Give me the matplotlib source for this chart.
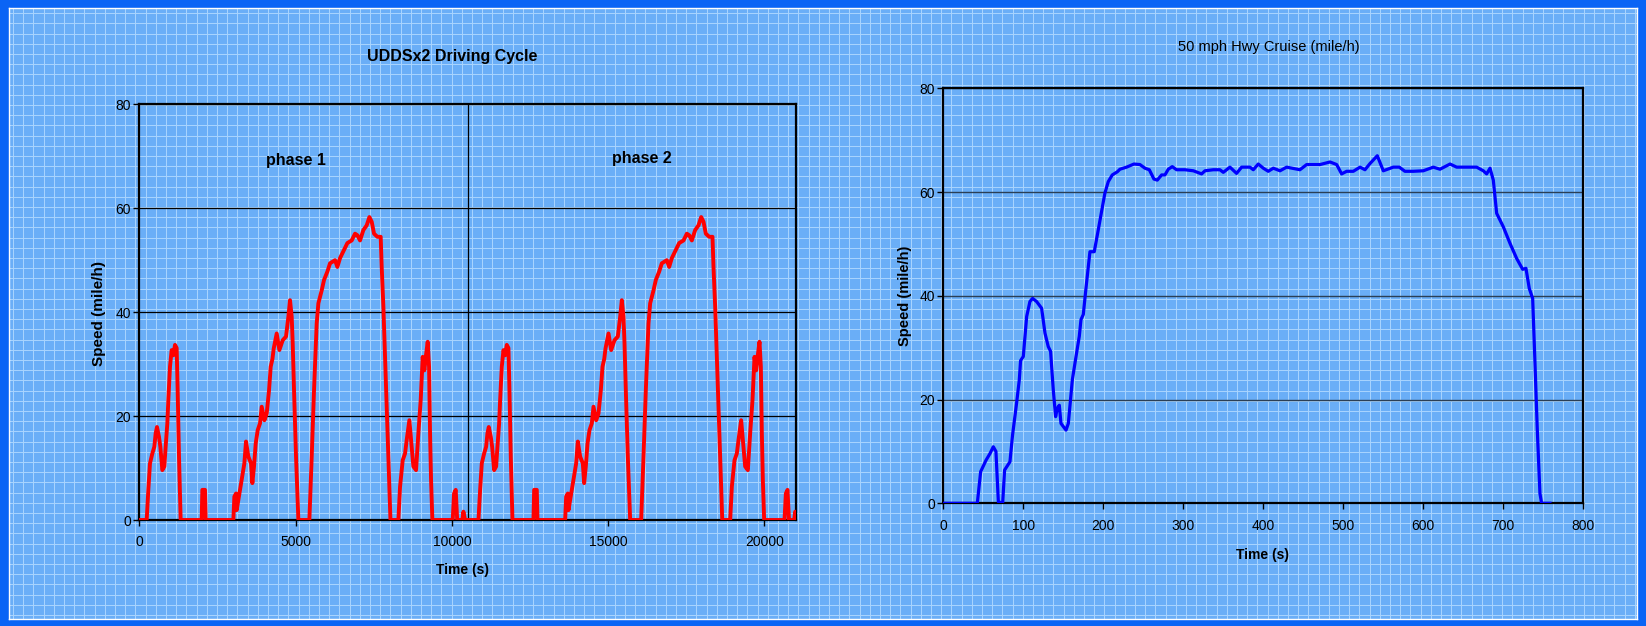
import numpy as np
import matplotlib.pyplot as plt

plt.rcParams['font.family'] = ['Liberation Sans', 'DejaVu Sans']

# UDDS cycle (time units as on axis, speed mile/h)
cycle_t = [0, 236, 289, 342, 417, 481, 524, 566, 630, 673,
           737, 801, 843, 897, 929, 982, 1035, 1089, 1142, 1195,
           1227, 1270, 1323, 1995, 2017, 2102, 2124, 3009, 3041, 3094,
           3116, 3222, 3275, 3361, 3414, 3489, 3574, 3617, 3670, 3724,
           3788, 3862, 3916, 4002, 4076, 4151, 4204, 4260, 4300, 4396,
           4481, 4588, 4694, 4769, 4822, 4876, 4908, 4950, 5014, 5089,
           5441, 5516, 5590, 5675, 5729, 5836, 5910, 6017, 6102, 6262,
           6337, 6422, 6529, 6657, 6796, 6902, 6977, 7062, 7169, 7275,
           7361, 7435, 7510, 7617, 7723, 7755, 7809, 7862, 7915, 7969,
           8035, 8289, 8342, 8427, 8502, 8555, 8640, 8694, 8768, 8854,
           8928, 9003, 9067, 9120, 9174, 9227, 9270, 9302, 9334, 9376,
           10027, 10070, 10123, 10170, 10337, 10369, 10422]
cycle_v = [0, 0, 5.8, 10.9, 12.8, 14.1, 16.7, 17.9, 16.0, 14.1,
           9.6, 10.3, 14.1, 18.6, 23.1, 29.5, 32.7, 31.7, 33.7, 33.1,
           25.0, 12.2, 0, 0, 5.8, 5.8, 0, 0, 4.5, 5.1,
           1.9, 5.8, 7.7, 10.9, 15.1, 12.2, 10.9, 7.1, 10.3, 14.7,
           17.3, 18.6, 21.8, 19.2, 20.5, 25.0, 29.5, 31.0, 33.0, 35.9,
           32.7, 34.6, 35.3, 39.1, 42.3, 39.1, 34.0, 25.0, 12.2, 0,
           0, 12.2, 25.0, 37.8, 41.7, 44.2, 46.2, 47.8, 49.4, 50.0,
           48.7, 50.4, 51.7, 53.3, 53.8, 55.1, 54.8, 53.8, 55.8, 56.7,
           58.3, 57.4, 55.1, 54.5, 54.5, 48.7, 41.0, 31.4, 21.8, 12.2,
           0, 0, 6.4, 11.5, 12.8, 15.4, 19.2, 15.4, 10.3, 9.6,
           16.7, 23.1, 31.4, 28.8, 31.8, 34.3, 29.5, 16.7, 7.7, 0,
           0, 5.1, 5.8, 0, 0, 1.6, 0]
phase_starts = [0, 10615]
phase_divider = 10530
phase_labels = ['phase 1', 'phase 2']
phase_label_x = [5013, 16081]
phase_label_y = [69.2, 69.6]

# 50 mph highway cruise (s, mile/h)
hwy_t = [0, 42.5, 46.7, 53.4, 58.4, 62.5, 65.8, 68.8, 74.2, 76.6,
         83.3, 86.6, 91.6, 95, 96.6, 100, 104.2, 108.3, 111.6, 116.6,
         122.9, 127.1, 131.2, 134.1, 137.5, 140.4, 142.5, 145, 147.1, 153.4,
         156.3, 161.3, 165.9, 170, 172.1, 175, 178.3, 183.3, 188.7, 193.7,
         202, 206.2, 211.2, 217.5, 220.8, 229.1, 238.3, 245.8, 252, 257.5,
         263.3, 267.5, 272.9, 277.1, 281.2, 286.2, 291.6, 302, 312.5, 322.9,
         327.1, 337.5, 345.8, 350, 358.3, 366.6, 372.9, 383.3, 387.5, 393.7,
         400, 406.2, 412.5, 420.9, 429.2, 445.8, 454.2, 470.9, 483.4, 491.7,
         497.9, 504.2, 512.5, 520.9, 527.1, 533.4, 542.5, 550, 562.5, 570,
         577, 587.5, 600, 612.5, 620.9, 633.4, 641.7, 658.4, 666.7, 675,
         679.2, 683.4, 687.5, 691.7, 700, 708.4, 716.7, 724.2, 728.3, 732.5,
         736.7, 739.6, 742.5, 745.8, 747.9, 758.3]
hwy_v = [0, 0, 6.1, 8.3, 9.6, 10.9, 10.0, 0.3, 0, 6.4,
         8.0, 13.2, 19.3, 23.8, 27.5, 28.3, 36.0, 38.9, 39.5, 38.9,
         37.6, 32.8, 30.2, 29.3, 21.8, 16.7, 18.3, 18.9, 15.4, 14.1,
         15.4, 23.8, 28.3, 32.2, 35.4, 36.4, 41.4, 48.5, 48.5, 52.7,
         59.8, 62.0, 63.3, 63.9, 64.4, 64.8, 65.4, 65.3, 64.6, 64.3,
         62.5, 62.3, 63.3, 63.3, 64.4, 64.9, 64.3, 64.3, 64.1, 63.5,
         64.1, 64.3, 64.3, 63.8, 64.8, 63.6, 64.8, 64.8, 64.3, 65.4,
         64.6, 64.0, 64.6, 64.1, 64.8, 64.3, 65.3, 65.3, 65.8, 65.3,
         63.5, 64.0, 64.0, 64.8, 64.3, 65.5, 67.0, 64.1, 64.8, 64.8,
         64.0, 64.0, 64.1, 64.8, 64.4, 65.4, 64.8, 64.8, 64.8, 64.1,
         63.5, 64.6, 62.3, 55.9, 53.3, 50.1, 47.2, 45.1, 45.3, 41.4,
         39.5, 27.0, 14.1, 1.9, 0, 0]

W, H = 1646, 626
fig = plt.figure(figsize=(W / 100, H / 100), dpi=100, facecolor='#0a64f5')

# patterned slide background
bg = fig.add_axes([9 / W, 7 / H, (W - 18) / W, (H - 15) / H])
bg.set_xlim(0, W - 18)
bg.set_ylim(0, H - 15)
bg.set_facecolor('#6aaef7')
for gx in np.arange(4, W, 10.2):
    bg.axvline(gx, color='#a9d5ff', lw=0.7)
for gy in np.arange(4, H, 10.2):
    bg.axhline(gy, color='#a9d5ff', lw=0.7)
bg.set_xticks([])
bg.set_yticks([])
for s in bg.spines.values():
    s.set_color('white')
    s.set_linewidth(1)


def style_axes(ax):
    ax.set_facecolor('none')
    for s in ax.spines.values():
        s.set_linewidth(1.6)
        s.set_color('black')
    ax.tick_params(direction='out', length=4, width=1, labelsize=10, colors='black')
    ax.tick_params(axis='x', pad=7)
    ax.tick_params(axis='y', pad=2)


# left chart
ax1 = fig.add_axes([139.3 / W, 1 - 520 / H, 656.4 / W, 415.7 / H])
style_axes(ax1)
t_all, v_all = [], []
for start in phase_starts:
    t_all += [start + t for t in cycle_t]
    v_all += cycle_v
ax1.plot(t_all, v_all, color='#ff0000', lw=2.8, zorder=3)
ax1.set_xlim(0, 21000)
ax1.set_ylim(0, 80)
ax1.set_xticks([0, 5000, 10000, 15000, 20000])
ax1.set_yticks([0, 20, 40, 60, 80])
ax1.yaxis.grid(True, color='black', lw=0.9)
ax1.axvline(phase_divider, color='black', lw=0.9)
for lab, x, y in zip(phase_labels, phase_label_x, phase_label_y):
    ax1.text(x, y, lab, ha='center', va='center', fontsize=11.5, fontweight='bold')

# right chart
ax2 = fig.add_axes([943.3 / W, 1 - 503.3 / H, 640 / W, 415 / H])
style_axes(ax2)
ax2.plot(hwy_t, hwy_v, color='#0000ff', lw=2.3, zorder=3)
ax2.set_xlim(0, 800)
ax2.set_ylim(0, 80)
ax2.set_xticks(np.arange(0, 801, 100))
ax2.set_yticks([0, 20, 40, 60, 80])
ax2.yaxis.grid(True, color='#2b3f55', lw=1)

# titles and axis labels
fig.text(452 / W, 1 - 56 / H, 'UDDSx2 Driving Cycle', ha='center', va='center',
         fontsize=11.5, fontweight='bold')
fig.text(1269 / W, 1 - 47 / H, '50 mph Hwy Cruise (mile/h)', ha='center', va='center',
         fontsize=10.5)
fig.text(99 / W, 1 - 313 / H, 'Speed (mile/h)', rotation=90, ha='center', va='center',
         fontsize=11, fontweight='bold')
fig.text(905 / W, 1 - 296 / H, 'Speed (mile/h)', rotation=90, ha='center', va='center',
         fontsize=10.5, fontweight='bold')
fig.text(463 / W, 1 - 570 / H, 'Time (s)', ha='center', va='center',
         fontsize=10, fontweight='bold')
fig.text(1263 / W, 1 - 555 / H, 'Time (s)', ha='center', va='center',
         fontsize=10, fontweight='bold')

fig.savefig('out.png', dpi=100, facecolor=fig.get_facecolor())
